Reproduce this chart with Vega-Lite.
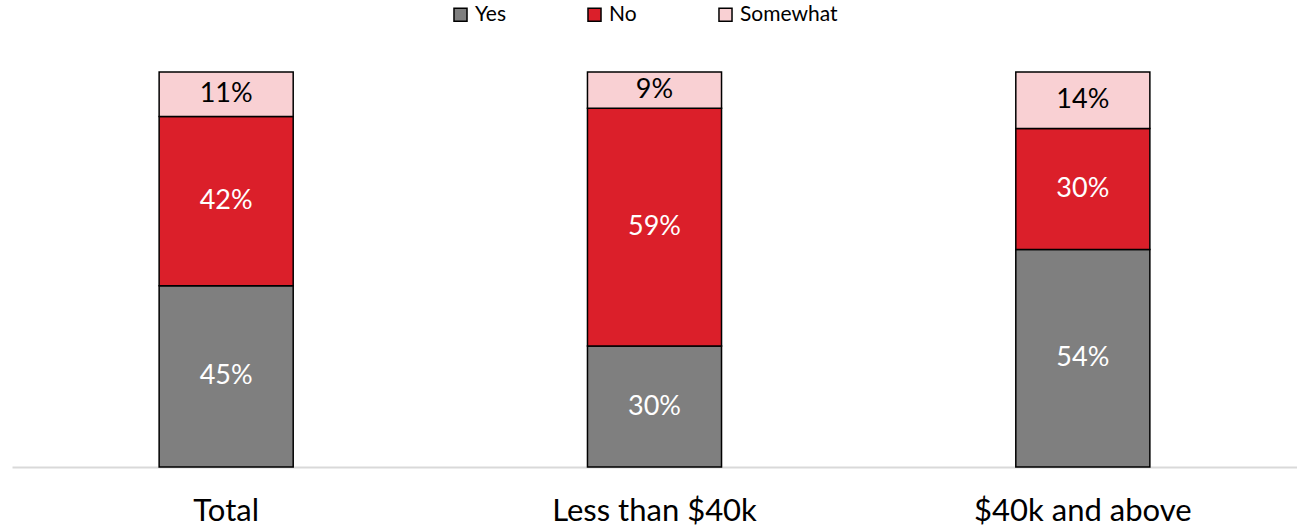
{
  "$schema": "https://vega.github.io/schema/vega-lite/v6.json",
  "width": 1285,
  "height": 403,
  "autosize": {"type": "none"},
  "padding": {"left": 12, "top": 64, "right": 0, "bottom": 60},
  "background": "white",
  "config": {"view": {"stroke": null}, "font": "Lato"},
  "data": {
    "values": [
      {"group": "Total", "response": "Yes", "value": 45},
      {"group": "Total", "response": "No", "value": 42},
      {"group": "Total", "response": "Somewhat", "value": 11},
      {"group": "Less than $40k", "response": "Yes", "value": 30},
      {"group": "Less than $40k", "response": "No", "value": 59},
      {"group": "Less than $40k", "response": "Somewhat", "value": 9},
      {"group": "$40k and above", "response": "Yes", "value": 54},
      {"group": "$40k and above", "response": "No", "value": 30},
      {"group": "$40k and above", "response": "Somewhat", "value": 14}
    ]
  },
  "transform": [
    {"calculate": "indexof(['Yes','No','Somewhat'], datum.response)", "as": "rank"},
    {"stack": "value", "groupby": ["group"], "sort": [{"field": "rank", "order": "ascending"}], "as": ["v0", "v1"]},
    {"calculate": "(datum.v0 + datum.v1) / 2", "as": "mid"},
    {"calculate": "datum.value + '%'", "as": "label"}
  ],
  "encoding": {
    "x": {
      "field": "group",
      "type": "nominal",
      "sort": ["Total", "Less than $40k", "$40k and above"],
      "scale": {"paddingInner": 0.687, "paddingOuter": 0.3435},
      "axis": {
        "title": null,
        "labelAngle": 0,
        "labelFontSize": 31,
        "labelColor": "black",
        "labelPadding": 29,
        "labelLimit": 0,
        "ticks": false,
        "domainColor": "#d9d9d9",
        "domainWidth": 2,
        "labelFont": "Lato"
      }
    }
  },
  "layer": [
    {
      "mark": {"type": "bar", "stroke": "black", "strokeWidth": 1.5},
      "encoding": {
        "y": {"field": "v0", "type": "quantitative", "scale": {"domain": [0, 100]}, "axis": null},
        "y2": {"field": "v1"},
        "color": {
          "field": "response",
          "type": "nominal",
          "scale": {"domain": ["Yes", "No", "Somewhat"], "range": ["#7f7f7f", "#db1f2a", "#f9d0d3"]},
          "legend": {
            "title": null,
            "orient": "none",
            "direction": "horizontal",
            "legendX": 438,
            "legendY": -60,
            "symbolType": "square",
            "symbolSize": 170,
            "symbolStrokeColor": "black",
            "symbolStrokeWidth": 1.5,
            "labelFontSize": 21,
            "labelColor": "black",
            "columnPadding": 78,
            "labelOffset": 4,
            "labelLimit": 0
          }
        }
      }
    },
    {
      "mark": {"type": "text", "fontSize": 27, "baseline": "middle"},
      "encoding": {
        "y": {"field": "mid", "type": "quantitative", "scale": {"domain": [0, 100]}},
        "text": {"field": "label"},
        "color": {
          "condition": {"test": "datum.response === 'Somewhat'", "value": "black"},
          "value": "white"
        }
      }
    }
  ]
}
